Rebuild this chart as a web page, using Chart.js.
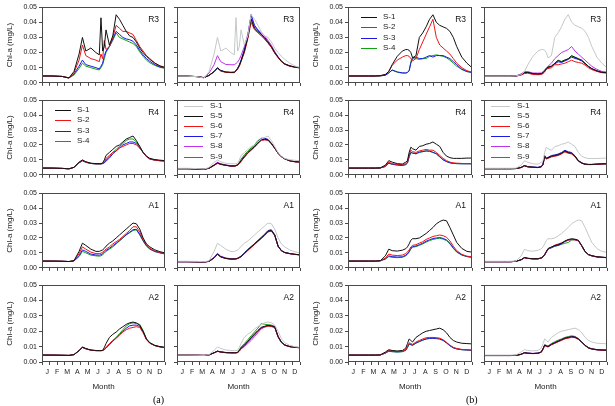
<!DOCTYPE html>
<html><head><meta charset="utf-8">
<script src="https://cdn.jsdelivr.net/npm/chart.js@4.4.1/dist/chart.umd.min.js"></script>
<style>
body{margin:0;background:#fff;width:615px;height:406px;overflow:hidden;position:relative;font-family:"Liberation Sans",Arial,sans-serif}
.pc{position:absolute}
.lab{position:absolute;font-size:8.5px;line-height:10px;color:#111;text-align:right;width:30px}
.lrow{position:absolute;height:10px;line-height:10px;font-size:8px;color:#222;white-space:nowrap}
.lrow .ln{position:absolute;top:5px;height:0;border-top:1px solid}
.lrow .tx{position:absolute;top:0}
.cap{position:absolute;font-family:"Liberation Serif","Times New Roman",serif;font-size:10px;line-height:10px}
</style></head><body>
<script>
// sampling days (day of year)
const days=[1,30,60,80,95,110,120,130,145,160,170,175,180,185,190,200,210,220,230,240,250,260,270,280,290,300,310,320,335,350,365];
const monthLabels=['J','F','M','A','M','J','J','A','S','O','N','D'];
const monthMid=[15.5,45,74.5,105,135.5,166,196.5,227.5,258,288.5,319,349.5];
const xTickDays=[0,23,46,68,91,114,137,160,182,205,228,251,274,296,319,342,365];
const yTicks=[0,0.01,0.02,0.03,0.04,0.05];

// ---- (a) R3
const aR3_S1=[0.0045,0.0045,0.0042,0.0032,0.0075,0.0190,0.0300,0.0210,0.0230,0.0200,0.0185,0.0430,0.0210,0.0240,0.0350,0.0250,0.0310,0.0450,0.0420,0.0380,0.0340,0.0310,0.0300,0.0270,0.0230,0.0200,0.0175,0.0155,0.0130,0.0112,0.0102];
const aR3_S2=[0.0045,0.0045,0.0042,0.0032,0.0068,0.0150,0.0250,0.0180,0.0160,0.0150,0.0140,0.0190,0.0160,0.0280,0.0220,0.0240,0.0300,0.0380,0.0360,0.0340,0.0340,0.0330,0.0320,0.0280,0.0240,0.0210,0.0180,0.0160,0.0130,0.0110,0.0100];
const aR3_S3=[0.0045,0.0045,0.0042,0.0032,0.0058,0.0110,0.0150,0.0120,0.0110,0.0100,0.0092,0.0110,0.0130,0.0180,0.0210,0.0240,0.0290,0.0340,0.0320,0.0300,0.0290,0.0285,0.0275,0.0250,0.0215,0.0185,0.0160,0.0142,0.0120,0.0105,0.0098];
const aR3_S4=[0.0045,0.0045,0.0042,0.0032,0.0052,0.0095,0.0130,0.0110,0.0100,0.0090,0.0085,0.0100,0.0120,0.0160,0.0200,0.0240,0.0280,0.0330,0.0300,0.0290,0.0280,0.0270,0.0260,0.0240,0.0205,0.0175,0.0150,0.0132,0.0115,0.0102,0.0096];
const aR3_S5=[0.0045,0.0045,0.0042,0.0035,0.0050,0.0075,0.0100,0.0082,0.0072,0.0070,0.0070,0.0080,0.0095,0.0115,0.0145,0.0210,0.0300,0.0420,0.0360,0.0340,0.0320,0.0300,0.0270,0.0240,0.0200,0.0170,0.0142,0.0125,0.0112,0.0105,0.0100];
const aR3_S6=[0.0045,0.0045,0.0042,0.0035,0.0050,0.0072,0.0095,0.0078,0.0070,0.0068,0.0068,0.0078,0.0092,0.0110,0.0140,0.0200,0.0290,0.0400,0.0350,0.0330,0.0310,0.0290,0.0262,0.0235,0.0196,0.0166,0.0140,0.0123,0.0110,0.0104,0.0099];
const aR3_S7=[0.0045,0.0045,0.0042,0.0035,0.0050,0.0075,0.0100,0.0082,0.0072,0.0070,0.0072,0.0082,0.0098,0.0120,0.0150,0.0220,0.0310,0.0450,0.0380,0.0350,0.0320,0.0290,0.0265,0.0235,0.0200,0.0170,0.0142,0.0125,0.0112,0.0105,0.0100];
const aR3_S8=[0.0045,0.0045,0.0042,0.0035,0.0065,0.0120,0.0180,0.0140,0.0122,0.0120,0.0120,0.0128,0.0138,0.0155,0.0180,0.0240,0.0320,0.0440,0.0370,0.0350,0.0330,0.0310,0.0280,0.0248,0.0208,0.0172,0.0145,0.0126,0.0113,0.0106,0.0100];
const aR3_S9=[0.0045,0.0045,0.0042,0.0035,0.0050,0.0074,0.0098,0.0080,0.0071,0.0069,0.0070,0.0080,0.0095,0.0115,0.0145,0.0210,0.0300,0.0420,0.0360,0.0338,0.0318,0.0296,0.0268,0.0238,0.0198,0.0168,0.0141,0.0124,0.0111,0.0104,0.0099];
// ---- (a) R4
const aR4_S1=[0.0045,0.0045,0.0043,0.0040,0.0050,0.0085,0.0100,0.0088,0.0078,0.0075,0.0075,0.0075,0.0080,0.0100,0.0130,0.0150,0.0170,0.0190,0.0200,0.0220,0.0240,0.0250,0.0260,0.0230,0.0190,0.0150,0.0125,0.0110,0.0102,0.0098,0.0095];
const aR4_S2=[0.0045,0.0045,0.0043,0.0040,0.0050,0.0082,0.0096,0.0085,0.0076,0.0074,0.0074,0.0074,0.0078,0.0088,0.0110,0.0130,0.0150,0.0160,0.0180,0.0190,0.0200,0.0210,0.0210,0.0200,0.0180,0.0150,0.0122,0.0106,0.0098,0.0095,0.0093];
const aR4_S3=[0.0045,0.0045,0.0043,0.0040,0.0050,0.0080,0.0094,0.0084,0.0076,0.0073,0.0073,0.0073,0.0075,0.0080,0.0092,0.0112,0.0140,0.0160,0.0180,0.0200,0.0210,0.0220,0.0220,0.0210,0.0180,0.0150,0.0122,0.0106,0.0098,0.0094,0.0092];
const aR4_S4=[0.0045,0.0045,0.0043,0.0040,0.0050,0.0080,0.0095,0.0084,0.0076,0.0073,0.0073,0.0073,0.0076,0.0082,0.0100,0.0120,0.0150,0.0170,0.0190,0.0210,0.0230,0.0240,0.0240,0.0220,0.0190,0.0150,0.0123,0.0107,0.0099,0.0095,0.0093];
const aR4_S5=[0.0042,0.0042,0.0040,0.0038,0.0045,0.0065,0.0080,0.0072,0.0065,0.0060,0.0060,0.0062,0.0068,0.0080,0.0095,0.0125,0.0150,0.0170,0.0190,0.0215,0.0235,0.0238,0.0235,0.0210,0.0180,0.0145,0.0122,0.0108,0.0095,0.0089,0.0087];
const aR4_S6=[0.0042,0.0042,0.0040,0.0038,0.0045,0.0064,0.0078,0.0070,0.0064,0.0059,0.0059,0.0061,0.0066,0.0076,0.0090,0.0118,0.0145,0.0165,0.0185,0.0210,0.0230,0.0234,0.0232,0.0208,0.0178,0.0144,0.0121,0.0107,0.0094,0.0088,0.0086];
const aR4_S7=[0.0042,0.0042,0.0040,0.0038,0.0045,0.0065,0.0080,0.0072,0.0065,0.0060,0.0060,0.0062,0.0067,0.0078,0.0092,0.0120,0.0148,0.0170,0.0192,0.0220,0.0245,0.0245,0.0238,0.0212,0.0180,0.0146,0.0122,0.0108,0.0095,0.0089,0.0087];
const aR4_S8=[0.0042,0.0042,0.0040,0.0038,0.0046,0.0068,0.0085,0.0075,0.0067,0.0062,0.0062,0.0063,0.0068,0.0078,0.0092,0.0120,0.0146,0.0166,0.0186,0.0212,0.0232,0.0236,0.0234,0.0210,0.0180,0.0145,0.0122,0.0108,0.0095,0.0089,0.0087];
const aR4_S9=[0.0042,0.0042,0.0040,0.0038,0.0045,0.0065,0.0080,0.0072,0.0065,0.0060,0.0060,0.0063,0.0070,0.0085,0.0105,0.0135,0.0160,0.0180,0.0200,0.0230,0.0240,0.0238,0.0232,0.0208,0.0178,0.0144,0.0121,0.0107,0.0094,0.0088,0.0086];
// ---- (a) A1
const aA1_S1=[0.0045,0.0045,0.0044,0.0042,0.0048,0.0110,0.0165,0.0150,0.0125,0.0110,0.0110,0.0115,0.0120,0.0130,0.0145,0.0165,0.0180,0.0200,0.0220,0.0240,0.0260,0.0280,0.0300,0.0295,0.0260,0.0200,0.0160,0.0140,0.0120,0.0108,0.0100];
const aA1_S2=[0.0045,0.0045,0.0044,0.0042,0.0047,0.0095,0.0140,0.0125,0.0105,0.0095,0.0095,0.0098,0.0105,0.0115,0.0125,0.0140,0.0160,0.0175,0.0190,0.0210,0.0230,0.0250,0.0275,0.0275,0.0240,0.0190,0.0155,0.0130,0.0112,0.0102,0.0095];
const aA1_S3=[0.0045,0.0045,0.0044,0.0042,0.0046,0.0082,0.0120,0.0110,0.0092,0.0086,0.0085,0.0088,0.0095,0.0105,0.0116,0.0130,0.0148,0.0165,0.0182,0.0202,0.0222,0.0238,0.0255,0.0258,0.0225,0.0182,0.0148,0.0127,0.0110,0.0101,0.0093];
const aA1_S4=[0.0045,0.0045,0.0044,0.0042,0.0046,0.0075,0.0110,0.0100,0.0085,0.0080,0.0078,0.0080,0.0088,0.0098,0.0110,0.0125,0.0140,0.0160,0.0180,0.0200,0.0220,0.0235,0.0250,0.0255,0.0220,0.0180,0.0145,0.0125,0.0108,0.0100,0.0092];
const aA1_S5=[0.0042,0.0042,0.0041,0.0040,0.0044,0.0068,0.0093,0.0075,0.0064,0.0060,0.0060,0.0061,0.0064,0.0070,0.0076,0.0098,0.0120,0.0140,0.0160,0.0180,0.0200,0.0220,0.0245,0.0250,0.0220,0.0145,0.0115,0.0103,0.0096,0.0091,0.0088];
const aA1_S6=[0.0042,0.0042,0.0041,0.0040,0.0044,0.0066,0.0090,0.0073,0.0063,0.0059,0.0059,0.0060,0.0063,0.0068,0.0074,0.0095,0.0116,0.0136,0.0156,0.0176,0.0196,0.0216,0.0240,0.0246,0.0216,0.0143,0.0114,0.0102,0.0095,0.0090,0.0087];
const aA1_S7=[0.0042,0.0042,0.0041,0.0040,0.0044,0.0068,0.0093,0.0075,0.0064,0.0060,0.0060,0.0061,0.0065,0.0071,0.0078,0.0100,0.0122,0.0142,0.0162,0.0182,0.0205,0.0225,0.0250,0.0255,0.0222,0.0146,0.0116,0.0103,0.0096,0.0091,0.0088];
const aA1_S8=[0.0042,0.0042,0.0041,0.0040,0.0045,0.0072,0.0098,0.0079,0.0067,0.0062,0.0062,0.0063,0.0066,0.0071,0.0077,0.0098,0.0119,0.0139,0.0159,0.0179,0.0199,0.0219,0.0243,0.0248,0.0219,0.0145,0.0115,0.0103,0.0096,0.0091,0.0088];
const aA1_S9=[0.0042,0.0042,0.0041,0.0040,0.0044,0.0067,0.0092,0.0074,0.0064,0.0060,0.0060,0.0061,0.0064,0.0072,0.0080,0.0102,0.0124,0.0143,0.0163,0.0183,0.0203,0.0222,0.0246,0.0250,0.0220,0.0145,0.0115,0.0103,0.0096,0.0091,0.0088];
// ---- (a) A2
const aA2_S1=[0.0045,0.0045,0.0044,0.0043,0.0048,0.0075,0.0098,0.0088,0.0078,0.0075,0.0074,0.0074,0.0076,0.0095,0.0120,0.0160,0.0180,0.0195,0.0215,0.0230,0.0245,0.0255,0.0260,0.0255,0.0240,0.0200,0.0150,0.0125,0.0108,0.0100,0.0095];
const aA2_S2=[0.0045,0.0045,0.0044,0.0043,0.0048,0.0074,0.0096,0.0086,0.0077,0.0074,0.0074,0.0074,0.0075,0.0085,0.0095,0.0120,0.0140,0.0155,0.0175,0.0195,0.0210,0.0220,0.0225,0.0230,0.0225,0.0190,0.0145,0.0122,0.0106,0.0098,0.0093];
const aA2_S3=[0.0045,0.0045,0.0044,0.0043,0.0048,0.0074,0.0095,0.0086,0.0077,0.0074,0.0074,0.0074,0.0075,0.0080,0.0090,0.0112,0.0135,0.0155,0.0178,0.0200,0.0220,0.0235,0.0240,0.0240,0.0232,0.0196,0.0148,0.0123,0.0107,0.0099,0.0094];
const aA2_S4=[0.0045,0.0045,0.0044,0.0043,0.0048,0.0074,0.0095,0.0086,0.0077,0.0074,0.0074,0.0074,0.0075,0.0082,0.0092,0.0115,0.0140,0.0160,0.0185,0.0210,0.0235,0.0250,0.0255,0.0250,0.0245,0.0205,0.0150,0.0125,0.0107,0.0099,0.0094];
const aA2_S5=[0.0045,0.0045,0.0044,0.0043,0.0046,0.0060,0.0070,0.0065,0.0061,0.0060,0.0060,0.0060,0.0062,0.0075,0.0090,0.0110,0.0135,0.0160,0.0182,0.0205,0.0225,0.0232,0.0238,0.0235,0.0228,0.0165,0.0128,0.0110,0.0100,0.0096,0.0093];
const aA2_S6=[0.0045,0.0045,0.0044,0.0043,0.0046,0.0059,0.0069,0.0064,0.0060,0.0059,0.0059,0.0059,0.0061,0.0070,0.0085,0.0105,0.0128,0.0152,0.0175,0.0198,0.0218,0.0226,0.0233,0.0230,0.0224,0.0162,0.0126,0.0109,0.0099,0.0095,0.0092];
const aA2_S7=[0.0045,0.0045,0.0044,0.0043,0.0046,0.0060,0.0070,0.0065,0.0061,0.0060,0.0060,0.0060,0.0062,0.0072,0.0087,0.0107,0.0131,0.0156,0.0179,0.0202,0.0222,0.0230,0.0236,0.0233,0.0226,0.0164,0.0127,0.0110,0.0100,0.0096,0.0093];
const aA2_S8=[0.0045,0.0045,0.0044,0.0043,0.0046,0.0060,0.0071,0.0066,0.0062,0.0061,0.0061,0.0061,0.0063,0.0075,0.0085,0.0100,0.0120,0.0140,0.0165,0.0190,0.0215,0.0228,0.0235,0.0232,0.0225,0.0162,0.0126,0.0109,0.0099,0.0095,0.0092];
const aA2_S9=[0.0045,0.0045,0.0044,0.0043,0.0046,0.0060,0.0070,0.0065,0.0061,0.0060,0.0060,0.0060,0.0063,0.0080,0.0098,0.0120,0.0145,0.0170,0.0195,0.0220,0.0250,0.0245,0.0242,0.0240,0.0232,0.0168,0.0129,0.0111,0.0101,0.0096,0.0093];
// ---- (b) R3
const bR3_S1=[0.0045,0.0045,0.0045,0.0045,0.0047,0.0055,0.0075,0.0120,0.0175,0.0210,0.0220,0.0220,0.0215,0.0200,0.0165,0.0180,0.0300,0.0330,0.0370,0.0420,0.0450,0.0400,0.0380,0.0370,0.0360,0.0340,0.0300,0.0240,0.0170,0.0130,0.0100];
const bR3_S2=[0.0045,0.0045,0.0045,0.0045,0.0047,0.0055,0.0075,0.0115,0.0150,0.0170,0.0180,0.0180,0.0175,0.0160,0.0145,0.0160,0.0220,0.0270,0.0320,0.0370,0.0420,0.0300,0.0250,0.0230,0.0210,0.0190,0.0160,0.0130,0.0100,0.0080,0.0070];
const bR3_S3=[0.0045,0.0045,0.0045,0.0045,0.0046,0.0050,0.0065,0.0085,0.0072,0.0066,0.0065,0.0070,0.0080,0.0130,0.0160,0.0170,0.0160,0.0160,0.0170,0.0180,0.0170,0.0180,0.0180,0.0180,0.0170,0.0160,0.0140,0.0120,0.0090,0.0075,0.0068];
const bR3_S4=[0.0045,0.0045,0.0045,0.0045,0.0046,0.0050,0.0066,0.0083,0.0070,0.0064,0.0064,0.0068,0.0078,0.0140,0.0170,0.0160,0.0155,0.0160,0.0160,0.0175,0.0180,0.0185,0.0180,0.0175,0.0165,0.0150,0.0130,0.0110,0.0088,0.0074,0.0068];
const bR3_S5=[0.0045,0.0045,0.0045,0.0045,0.0046,0.0055,0.0068,0.0070,0.0062,0.0060,0.0062,0.0068,0.0080,0.0095,0.0105,0.0110,0.0130,0.0150,0.0140,0.0150,0.0160,0.0180,0.0170,0.0160,0.0150,0.0130,0.0110,0.0095,0.0080,0.0070,0.0068];
const bR3_S6=[0.0045,0.0045,0.0045,0.0045,0.0046,0.0052,0.0062,0.0065,0.0056,0.0054,0.0056,0.0062,0.0072,0.0090,0.0095,0.0100,0.0120,0.0120,0.0125,0.0130,0.0140,0.0150,0.0140,0.0135,0.0130,0.0118,0.0100,0.0088,0.0076,0.0068,0.0066];
const bR3_S7=[0.0045,0.0045,0.0045,0.0045,0.0046,0.0054,0.0066,0.0068,0.0060,0.0058,0.0060,0.0066,0.0078,0.0092,0.0100,0.0108,0.0125,0.0140,0.0135,0.0145,0.0155,0.0170,0.0162,0.0155,0.0145,0.0126,0.0107,0.0093,0.0079,0.0069,0.0067];
const bR3_S8=[0.0045,0.0045,0.0045,0.0045,0.0047,0.0060,0.0075,0.0075,0.0066,0.0065,0.0066,0.0075,0.0085,0.0100,0.0110,0.0130,0.0160,0.0180,0.0200,0.0210,0.0220,0.0240,0.0210,0.0190,0.0170,0.0150,0.0130,0.0110,0.0090,0.0076,0.0072];
const bR3_S9=[0.0045,0.0045,0.0045,0.0045,0.0046,0.0055,0.0067,0.0069,0.0061,0.0059,0.0061,0.0067,0.0079,0.0094,0.0104,0.0112,0.0128,0.0145,0.0142,0.0152,0.0158,0.0175,0.0168,0.0158,0.0148,0.0128,0.0109,0.0094,0.0080,0.0070,0.0068];
// ---- (b) R4
const bR4_S1=[0.0045,0.0045,0.0045,0.0045,0.0046,0.0065,0.0095,0.0085,0.0075,0.0072,0.0085,0.0095,0.0150,0.0185,0.0175,0.0165,0.0190,0.0195,0.0205,0.0210,0.0220,0.0205,0.0190,0.0150,0.0125,0.0115,0.0110,0.0110,0.0110,0.0112,0.0112];
const bR4_S2=[0.0045,0.0045,0.0045,0.0045,0.0046,0.0060,0.0085,0.0075,0.0070,0.0068,0.0075,0.0085,0.0135,0.0165,0.0155,0.0150,0.0160,0.0165,0.0170,0.0165,0.0165,0.0150,0.0130,0.0110,0.0095,0.0085,0.0080,0.0078,0.0076,0.0075,0.0075];
const bR4_S3=[0.0045,0.0045,0.0045,0.0045,0.0046,0.0056,0.0079,0.0071,0.0066,0.0063,0.0069,0.0079,0.0122,0.0150,0.0146,0.0142,0.0152,0.0156,0.0160,0.0158,0.0151,0.0141,0.0121,0.0101,0.0089,0.0081,0.0077,0.0075,0.0074,0.0074,0.0074];
const bR4_S4=[0.0045,0.0045,0.0045,0.0045,0.0046,0.0055,0.0078,0.0070,0.0065,0.0062,0.0068,0.0078,0.0120,0.0150,0.0145,0.0140,0.0150,0.0155,0.0160,0.0158,0.0150,0.0140,0.0120,0.0100,0.0088,0.0080,0.0076,0.0075,0.0074,0.0074,0.0074];
const bR4_S5=[0.0042,0.0042,0.0042,0.0042,0.0043,0.0050,0.0062,0.0055,0.0052,0.0050,0.0055,0.0070,0.0125,0.0110,0.0115,0.0125,0.0130,0.0135,0.0145,0.0160,0.0150,0.0145,0.0125,0.0095,0.0080,0.0072,0.0070,0.0070,0.0072,0.0074,0.0075];
const bR4_S6=[0.0042,0.0042,0.0042,0.0042,0.0043,0.0049,0.0060,0.0054,0.0051,0.0049,0.0054,0.0068,0.0120,0.0106,0.0111,0.0120,0.0125,0.0130,0.0140,0.0154,0.0145,0.0140,0.0121,0.0092,0.0078,0.0071,0.0069,0.0069,0.0071,0.0073,0.0074];
const bR4_S7=[0.0042,0.0042,0.0042,0.0042,0.0043,0.0051,0.0063,0.0056,0.0053,0.0051,0.0056,0.0072,0.0130,0.0113,0.0118,0.0130,0.0134,0.0140,0.0150,0.0165,0.0155,0.0150,0.0128,0.0097,0.0081,0.0073,0.0071,0.0071,0.0073,0.0075,0.0076];
const bR4_S8=[0.0042,0.0042,0.0042,0.0042,0.0043,0.0050,0.0062,0.0055,0.0052,0.0050,0.0055,0.0070,0.0124,0.0109,0.0114,0.0124,0.0129,0.0134,0.0144,0.0158,0.0149,0.0144,0.0124,0.0094,0.0080,0.0072,0.0070,0.0070,0.0072,0.0074,0.0075];
const bR4_S9=[0.0042,0.0042,0.0042,0.0042,0.0043,0.0050,0.0061,0.0055,0.0052,0.0050,0.0055,0.0069,0.0123,0.0108,0.0113,0.0123,0.0128,0.0133,0.0143,0.0157,0.0148,0.0143,0.0123,0.0094,0.0079,0.0072,0.0070,0.0070,0.0072,0.0074,0.0075];
// ---- (b) A1
const bA1_S1=[0.0045,0.0045,0.0045,0.0045,0.0047,0.0080,0.0125,0.0115,0.0112,0.0118,0.0128,0.0140,0.0160,0.0185,0.0195,0.0195,0.0200,0.0215,0.0230,0.0250,0.0270,0.0295,0.0310,0.0320,0.0315,0.0270,0.0220,0.0170,0.0130,0.0110,0.0105];
const bA1_S2=[0.0045,0.0045,0.0045,0.0045,0.0047,0.0065,0.0092,0.0085,0.0082,0.0085,0.0095,0.0105,0.0120,0.0140,0.0150,0.0155,0.0165,0.0175,0.0190,0.0200,0.0210,0.0215,0.0220,0.0215,0.0205,0.0180,0.0145,0.0115,0.0090,0.0078,0.0073];
const bA1_S3=[0.0045,0.0045,0.0045,0.0045,0.0047,0.0060,0.0080,0.0075,0.0072,0.0074,0.0084,0.0094,0.0110,0.0130,0.0142,0.0146,0.0155,0.0165,0.0178,0.0188,0.0196,0.0200,0.0203,0.0197,0.0187,0.0165,0.0134,0.0108,0.0087,0.0076,0.0071];
const bA1_S4=[0.0045,0.0045,0.0045,0.0045,0.0047,0.0058,0.0075,0.0070,0.0068,0.0070,0.0080,0.0090,0.0105,0.0125,0.0138,0.0142,0.0150,0.0160,0.0172,0.0182,0.0190,0.0195,0.0198,0.0192,0.0182,0.0160,0.0130,0.0105,0.0085,0.0075,0.0070];
const bA1_S5=[0.0042,0.0042,0.0042,0.0042,0.0045,0.0055,0.0070,0.0065,0.0062,0.0062,0.0068,0.0075,0.0090,0.0110,0.0130,0.0140,0.0150,0.0155,0.0165,0.0180,0.0190,0.0195,0.0192,0.0185,0.0150,0.0110,0.0090,0.0082,0.0075,0.0072,0.0070];
const bA1_S6=[0.0042,0.0042,0.0042,0.0042,0.0045,0.0054,0.0068,0.0064,0.0061,0.0061,0.0067,0.0074,0.0088,0.0108,0.0127,0.0138,0.0152,0.0160,0.0168,0.0178,0.0186,0.0190,0.0188,0.0182,0.0148,0.0109,0.0089,0.0081,0.0074,0.0071,0.0069];
const bA1_S7=[0.0042,0.0042,0.0042,0.0042,0.0045,0.0054,0.0068,0.0064,0.0061,0.0061,0.0066,0.0073,0.0087,0.0106,0.0125,0.0136,0.0146,0.0151,0.0161,0.0176,0.0186,0.0190,0.0188,0.0181,0.0147,0.0108,0.0089,0.0081,0.0074,0.0071,0.0069];
const bA1_S8=[0.0042,0.0042,0.0042,0.0042,0.0045,0.0055,0.0069,0.0064,0.0061,0.0061,0.0067,0.0074,0.0089,0.0109,0.0128,0.0139,0.0148,0.0153,0.0163,0.0178,0.0188,0.0192,0.0190,0.0183,0.0149,0.0109,0.0089,0.0081,0.0074,0.0071,0.0069];
const bA1_S9=[0.0042,0.0042,0.0042,0.0042,0.0045,0.0055,0.0069,0.0064,0.0061,0.0061,0.0066,0.0074,0.0088,0.0106,0.0126,0.0134,0.0145,0.0150,0.0158,0.0165,0.0170,0.0186,0.0190,0.0182,0.0148,0.0109,0.0089,0.0081,0.0074,0.0071,0.0069];
// ---- (b) A2
const bA2_S1=[0.0045,0.0045,0.0045,0.0045,0.0046,0.0065,0.0080,0.0075,0.0072,0.0075,0.0090,0.0120,0.0150,0.0140,0.0130,0.0160,0.0175,0.0190,0.0200,0.0205,0.0210,0.0215,0.0220,0.0210,0.0190,0.0160,0.0140,0.0130,0.0122,0.0120,0.0118];
const bA2_S2=[0.0045,0.0045,0.0045,0.0045,0.0046,0.0060,0.0075,0.0070,0.0068,0.0070,0.0080,0.0100,0.0125,0.0120,0.0115,0.0130,0.0140,0.0150,0.0158,0.0160,0.0160,0.0158,0.0155,0.0145,0.0128,0.0110,0.0095,0.0088,0.0082,0.0080,0.0078];
const bA2_S3=[0.0045,0.0045,0.0045,0.0045,0.0046,0.0058,0.0072,0.0068,0.0066,0.0068,0.0077,0.0095,0.0118,0.0114,0.0110,0.0124,0.0134,0.0143,0.0150,0.0153,0.0154,0.0152,0.0149,0.0140,0.0124,0.0106,0.0092,0.0085,0.0080,0.0078,0.0076];
const bA2_S4=[0.0045,0.0045,0.0045,0.0045,0.0046,0.0057,0.0070,0.0067,0.0065,0.0067,0.0076,0.0093,0.0116,0.0112,0.0108,0.0122,0.0132,0.0142,0.0150,0.0155,0.0158,0.0156,0.0152,0.0142,0.0125,0.0107,0.0093,0.0086,0.0080,0.0078,0.0076];
const bA2_S5=[0.0042,0.0042,0.0042,0.0042,0.0043,0.0050,0.0060,0.0057,0.0055,0.0057,0.0065,0.0085,0.0110,0.0105,0.0100,0.0115,0.0125,0.0135,0.0145,0.0155,0.0160,0.0165,0.0162,0.0150,0.0130,0.0108,0.0092,0.0085,0.0080,0.0078,0.0077];
const bA2_S6=[0.0042,0.0042,0.0042,0.0042,0.0043,0.0049,0.0059,0.0056,0.0054,0.0056,0.0063,0.0082,0.0106,0.0101,0.0097,0.0111,0.0121,0.0131,0.0140,0.0150,0.0155,0.0160,0.0158,0.0147,0.0127,0.0106,0.0091,0.0084,0.0079,0.0077,0.0076];
const bA2_S7=[0.0042,0.0042,0.0042,0.0042,0.0043,0.0050,0.0060,0.0057,0.0055,0.0057,0.0064,0.0084,0.0108,0.0103,0.0099,0.0113,0.0123,0.0133,0.0143,0.0152,0.0157,0.0162,0.0160,0.0148,0.0128,0.0107,0.0091,0.0084,0.0079,0.0077,0.0076];
const bA2_S8=[0.0042,0.0042,0.0042,0.0042,0.0043,0.0050,0.0061,0.0058,0.0056,0.0058,0.0066,0.0086,0.0111,0.0106,0.0101,0.0116,0.0126,0.0136,0.0146,0.0156,0.0161,0.0166,0.0163,0.0151,0.0131,0.0109,0.0093,0.0086,0.0081,0.0079,0.0078];
const bA2_S9=[0.0042,0.0042,0.0042,0.0042,0.0043,0.0050,0.0060,0.0057,0.0055,0.0057,0.0065,0.0085,0.0112,0.0108,0.0104,0.0120,0.0132,0.0142,0.0150,0.0160,0.0165,0.0170,0.0166,0.0152,0.0131,0.0109,0.0093,0.0086,0.0080,0.0078,0.0077];

const namesL=['S-1','S-2','S-3','S-4'];
const namesR=['S-1','S-5','S-6','S-7','S-8','S-9'];
const colorsL=['#111111','#f01414','#1a1ae6','#12a012'];
const colorsR=['#c4c8c8','#111111','#f01414','#1a1ae6','#c032ec','#12a012'];

const panels=[
 {col:0,row:0,name:'R3',set:'L',data:[aR3_S1,aR3_S2,aR3_S3,aR3_S4]},
 {col:1,row:0,name:'R3',set:'R',data:[aR3_S1,aR3_S5,aR3_S6,aR3_S7,aR3_S8,aR3_S9]},
 {col:0,row:1,name:'R4',set:'L',legend:true,data:[aR4_S1,aR4_S2,aR4_S3,aR4_S4]},
 {col:1,row:1,name:'R4',set:'R',legend:true,data:[aR4_S1,aR4_S5,aR4_S6,aR4_S7,aR4_S8,aR4_S9]},
 {col:0,row:2,name:'A1',set:'L',data:[aA1_S1,aA1_S2,aA1_S3,aA1_S4]},
 {col:1,row:2,name:'A1',set:'R',data:[aA1_S1,aA1_S5,aA1_S6,aA1_S7,aA1_S8,aA1_S9]},
 {col:0,row:3,name:'A2',set:'L',data:[aA2_S1,aA2_S2,aA2_S3,aA2_S4]},
 {col:1,row:3,name:'A2',set:'R',data:[aA2_S1,aA2_S5,aA2_S6,aA2_S7,aA2_S8,aA2_S9]},
 {col:2,row:0,name:'R3',set:'L',legend:true,data:[bR3_S1,bR3_S2,bR3_S3,bR3_S4]},
 {col:3,row:0,name:'R3',set:'R',data:[bR3_S1,bR3_S5,bR3_S6,bR3_S7,bR3_S8,bR3_S9]},
 {col:2,row:1,name:'R4',set:'L',data:[bR4_S1,bR4_S2,bR4_S3,bR4_S4]},
 {col:3,row:1,name:'R4',set:'R',legend:true,data:[bR4_S1,bR4_S5,bR4_S6,bR4_S7,bR4_S8,bR4_S9]},
 {col:2,row:2,name:'A1',set:'L',data:[bA1_S1,bA1_S2,bA1_S3,bA1_S4]},
 {col:3,row:2,name:'A1',set:'R',data:[bA1_S1,bA1_S5,bA1_S6,bA1_S7,bA1_S8,bA1_S9]},
 {col:2,row:3,name:'A2',set:'L',data:[bA2_S1,bA2_S2,bA2_S3,bA2_S4]},
 {col:3,row:3,name:'A2',set:'R',data:[bA2_S1,bA2_S5,bA2_S6,bA2_S7,bA2_S8,bA2_S9]}
];

Chart.defaults.font.family='"Liberation Sans", Arial, sans-serif';
Chart.defaults.color='#222';
const COLS=[[42,165],[177,300],[348,472],[484,607]];
const ROWS=[[7,84],[100,176],[193,269],[285,362]];
const AX='#4a4a4a';

const framePlugin={id:'frame',afterDatasetsDraw(c){const a=c.chartArea,x=c.ctx;x.save();x.strokeStyle=AX;x.lineWidth=1;
 x.strokeRect(Math.round(a.left)+0.5,Math.round(a.top)+0.5,Math.round(a.right-a.left)-1,Math.round(a.bottom-a.top)-1);x.restore();}};

function makePanel(p){
  const [pl,pr]=COLS[p.col],[pt,pb]=ROWS[p.row];
  const isLeft=p.set==='L', isBottom=p.row===3;
  const padL=isLeft?42:4, padT=6, padR=4, padB=isBottom?32:5;
  const W=pr-pl+padL+padR, H=pb-pt+padT+padB;
  const div=document.createElement('div');div.className='pc';
  div.style.left=(pl-padL)+'px';div.style.top=(pt-padT)+'px';div.style.width=W+'px';div.style.height=H+'px';
  const cv=document.createElement('canvas');cv.width=W;cv.height=H;cv.style.width=W+'px';cv.style.height=H+'px';
  div.appendChild(cv);document.body.appendChild(div);
  const names=isLeft?namesL:namesR, cols=isLeft?colorsL:colorsR;
  const datasets=p.data.map((arr,k)=>({label:names[k],data:days.map((d,i)=>({x:d,y:arr[i]})),borderColor:cols[k],borderWidth:1,pointRadius:0,tension:0,fill:false}));
  new Chart(cv,{type:'line',data:{datasets},plugins:[framePlugin],
    options:{responsive:false,animation:false,devicePixelRatio:1,
      layout:{padding:{top:padT,right:padR,left:0,bottom:0}},
      plugins:{legend:{display:false},tooltip:{enabled:false}},
      scales:{
        x:{type:'linear',position:'bottom',weight:0,min:0,max:365,
          afterBuildTicks:s=>{s.ticks=xTickDays.map(v=>({value:v}));},
          ticks:{display:false},
          grid:{display:true,drawOnChartArea:false,drawTicks:true,tickLength:3,color:AX,lineWidth:1},
          border:{display:false},
          afterFit:s=>{s.height=isBottom?4:padB;}},
        xm:{type:'linear',position:'bottom',weight:1,min:0,max:365,display:isBottom,
          afterBuildTicks:s=>{s.ticks=monthMid.map(v=>({value:v}));},
          ticks:{callback:(v,i)=>monthLabels[i],font:{size:7},color:'#222',padding:2,maxRotation:0,autoSkip:false},
          grid:{display:false,drawTicks:false},border:{display:false},
          title:{display:true,text:'Month',font:{size:8},color:'#222',padding:{top:0,bottom:2}},
          afterFit:s=>{s.height=padB-4;}},
        y:{type:'linear',min:0,max:0.05,
          afterBuildTicks:s=>{s.ticks=yTicks.map(v=>({value:v}));},
          ticks:{display:isLeft,callback:v=>v.toFixed(2),font:{size:7},color:'#222',padding:2},
          grid:{display:true,drawOnChartArea:false,drawTicks:true,tickLength:3,color:AX,lineWidth:1},
          border:{display:false},
          title:{display:isLeft,text:'Chl-a (mg/L)',font:{size:8},color:'#222',padding:{top:5,bottom:0}},
          afterFit:s=>{s.width=padL;}}
      }}});
  // panel label
  const lb=document.createElement('div');lb.className='lab';lb.textContent=p.name;
  lb.style.left=(pr-6-30)+'px';lb.style.top=(pt+7)+'px';document.body.appendChild(lb);
  // legend
  if(p.legend){
    const first=isLeft?10:5.5, step=isLeft?10.4:10.2, ls=isLeft?13:7, ll=isLeft?16:19, tx=isLeft?35:33;
    names.forEach((n,k)=>{
      const r=document.createElement('div');r.className='lrow';
      r.style.left=pl+'px';r.style.top=(pt+first+k*step-5)+'px';r.style.width='60px';
      const ln=document.createElement('span');ln.className='ln';ln.style.left=ls+'px';ln.style.width=ll+'px';ln.style.borderTopColor=cols[k];
      const t=document.createElement('span');t.className='tx';t.style.left=tx+'px';t.textContent=n;
      r.appendChild(ln);r.appendChild(t);document.body.appendChild(r);
    });
  }
}
panels.forEach(makePanel);
function cap(text,cx){const d=document.createElement('div');d.className='cap';d.textContent=text;d.style.left=(cx-7)+'px';d.style.top='395px';document.body.appendChild(d);}
cap('(a)',160);cap('(b)',473);
</script>
</body></html>
